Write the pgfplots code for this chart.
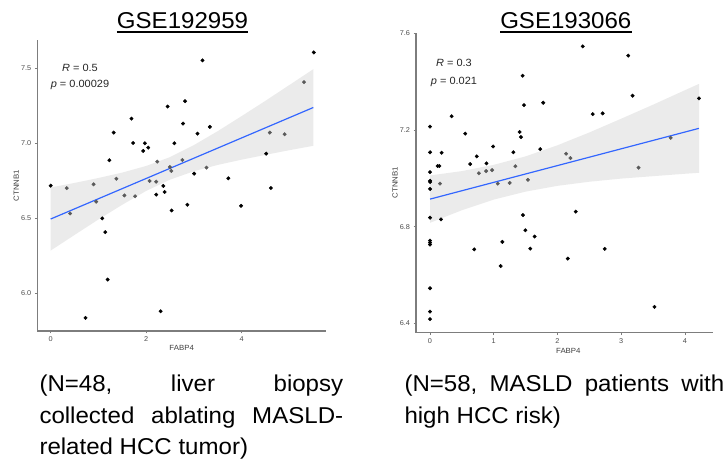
\documentclass[border=0pt]{standalone}
\usepackage{fontspec}
\setmainfont[FakeStretch=1.05]{Liberation Sans}
\usepackage{pgfplots}
\pgfplotsset{compat=1.18}
\definecolor{smblue}{RGB}{51,102,255}
\definecolor{rib}{RGB}{235,235,235}
\definecolor{axgray}{RGB}{125,125,125}
\definecolor{ptgray}{RGB}{90,90,90}
\newcommand{\tickfont}{\fontsize{7}{8}\selectfont}
\newcommand{\capsize}{\fontsize{23}{31}\selectfont}
\pgfplotsset{
  scat/.style={
    scale only axis,
    axis x line=bottom, axis y line=left,
    axis line style={-, draw=axgray, line width=1.1bp},
    tick align=outside, major tick length=2.5bp,
    tick style={draw=axgray, line width=0.7bp},
    ticklabel style={font=\tickfont, text=black!70},
    /pgf/number format/assume math mode=true,
    label style={font=\fontsize{7.5}{9}\selectfont, text=black!75},
  },
  blk/.style={only marks, mark=*, mark size=1.75bp, black, mark options={draw=black, fill=black}},
  gry/.style={only marks, mark=*, mark size=1.75bp, ptgray, mark options={draw=ptgray, fill=ptgray}},
}
\begin{document}
\begin{tikzpicture}
\path[use as bounding box] (0,0) rectangle (728bp,462bp);

% ---------------- Left panel ----------------
\begin{axis}[scat, at={(37.3bp,131bp)}, anchor=south west,
  width=288.7bp, height=291bp,
  xmin=-0.28, xmax=5.765, ymin=5.751, ymax=7.687,
  xtick={0,2,4}, xticklabels={0,2,4},
  ytick={6,6.5,7,7.5}, yticklabels={6.0,6.5,7.0,7.5},
  xlabel={FABP4}, ylabel={CTNNB1},
  xlabel style={at={([yshift=-16.7bp]axis description cs:0.5,0)}, anchor=center},
  ylabel style={at={([xshift=-21bp]axis description cs:0,0.5)}, anchor=center},
]
\addplot[fill=rib, draw=none] coordinates {
 (0,6.706) (0.5,6.736) (1,6.769) (1.5,6.805) (2,6.849) (2.5,6.908) (3,6.988) (3.5,7.081) (4,7.181) (4.5,7.283) (5,7.388) (5.5,7.493)
 (5.5,6.983) (5,6.954) (4.5,6.923) (4,6.891) (3.5,6.856) (3,6.814) (2.5,6.758) (2,6.683) (1.5,6.591) (1,6.493) (0.5,6.390) (0,6.286)
};
\addplot[gry] coordinates {
 (0.337,6.702) (0.407,6.533) (0.898,6.727) (0.954,6.611) (1.375,6.764) (1.544,6.653) (1.768,6.647) (2.07,6.749) (2.21,6.744) (2.232,6.878) (2.498,6.842) (2.526,6.816) (2.758,6.889) (3.263,6.838) (4.589,7.071) (4.898,7.06) (5.305,7.407)
};
\addplot[blk] coordinates {
 (0,6.718) (0.73,5.838) (1.081,6.5) (1.144,6.409) (1.193,6.093) (1.228,6.887) (1.319,7.071) (1.691,7.164) (1.726,7.002) (1.937,6.949) (1.972,7.0) (2.042,6.971) (2.21,6.658) (2.302,5.882) (2.358,6.716) (2.386,6.676) (2.449,7.244) (2.533,6.553) (2.589,7.0) (2.772,7.131) (2.814,7.28) (2.863,6.591) (3.004,6.798) (3.074,7.064) (3.179,7.551) (3.333,7.109) (3.719,6.767) (3.986,6.584) (4.512,6.931) (4.611,6.702) (5.509,7.604)
};
\addplot[draw=smblue, line width=1.2bp, no marks] coordinates {(0,6.496) (5.5,7.238)};
\node[anchor=base, font=\fontsize{10.5}{12}\selectfont, text=black!85] at (axis cs:0.614,7.476) {\textit{R} = 0.5};
\node[anchor=base, font=\fontsize{10.5}{12}\selectfont, text=black!85] at (axis cs:0.614,7.373) {\textit{p} = 0.00029};
\end{axis}

% ---------------- Right panel ----------------
\begin{axis}[scat, at={(416bp,129.3bp)}, anchor=south west,
  width=296.7bp, height=300bp,
  xmin=-0.22, xmax=4.435, ymin=6.361, ymax=7.603,
  xtick={0,1,2,3,4}, xticklabels={0,1,2,3,4},
  ytick={6.4,6.8,7.2,7.6}, yticklabels={6.4,6.8,7.2,7.6},
  xlabel={FABP4}, ylabel={CTNNB1},
  xlabel style={at={([yshift=-18bp,xshift=4bp]axis description cs:0.5,0)}, anchor=center},
  ylabel style={at={([xshift=-21bp]axis description cs:0,0.5)}, anchor=center},
]
\addplot[fill=rib, draw=none] coordinates {
 (0,7.012) (0.5,7.030) (1,7.056) (1.5,7.091) (2,7.137) (2.5,7.190) (3,7.247) (3.5,7.305) (4,7.365) (4.22,7.391)
 (4.22,7.023) (4,7.019) (3.5,7.009) (3,6.999) (2.5,6.986) (2,6.969) (1.5,6.945) (1,6.912) (0.5,6.868) (0,6.816)
};
\addplot[gry] coordinates {
 (0.156,6.978) (0.766,7.021) (0.880,7.030) (0.974,7.034) (1.063,6.978) (1.25,6.981) (1.339,7.05) (1.536,6.994) (2.135,7.102) (2.203,7.084) (3.271,7.044) (3.776,7.168)
};
\addplot[blk] coordinates {
 (0,7.214) (0,7.108) (0,7.026) (0,6.990) (0,6.985) (0,6.956) (0,6.837) (0,6.742) (0,6.734) (0,6.726) (0,6.545) (0,6.448) (0,6.417) (0.12,7.051) (0.146,7.051) (0.172,6.830) (0.182,7.106) (0.339,7.257) (0.552,7.185) (0.630,7.059) (0.693,6.706) (0.734,7.091) (0.885,7.062) (0.990,7.132) (1.109,6.637) (1.135,6.737) (1.307,7.108) (1.406,7.192) (1.427,7.171) (1.453,7.425) (1.458,6.848) (1.474,7.303) (1.495,6.785) (1.573,6.709) (1.641,6.759) (1.729,7.121) (1.776,7.313) (2.161,6.668) (2.286,6.862) (2.396,7.546) (2.552,7.266) (2.708,7.269) (2.740,6.708) (3.109,7.508) (3.177,7.342) (3.521,6.468) (4.219,7.331)
};
\addplot[draw=smblue, line width=1.2bp, no marks] coordinates {(0,6.914) (4.219,7.207)};
\node[anchor=base, font=\fontsize{10.5}{12}\selectfont, text=black!85] at (axis cs:0.376,7.465) {\textit{R} = 0.3};
\node[anchor=base, font=\fontsize{10.5}{12}\selectfont, text=black!85] at (axis cs:0.376,7.390) {\textit{p} = 0.021};
\end{axis}

% ---------------- Titles ----------------
\node[anchor=base, inner sep=0, font=\fontsize{23}{27}\selectfont] (t1) at (182.5bp,433.7bp) {GSE192959};
\draw[line width=1.7bp] ([yshift=-4bp]t1.base west) -- ([yshift=-4bp]t1.base east);
\node[anchor=base, inner sep=0, font=\fontsize{23}{27}\selectfont] (t2) at (565.8bp,433.7bp) {GSE193066};
\draw[line width=1.7bp] ([yshift=-4bp]t2.base west) -- ([yshift=-4bp]t2.base east);

% ---------------- Captions ----------------
\node[anchor=base west, inner sep=0, font=\capsize] at (39.3bp,70.3bp) {\hbox to 303.7bp{(N=48,\hfill liver\hfill biopsy}};
\node[anchor=base west, inner sep=0, font=\capsize] at (39.3bp,38.7bp) {\hbox to 303.7bp{collected\hfill ablating\hfill MASLD-}};
\node[anchor=base west, inner sep=0, font=\capsize] at (39.3bp,7.7bp) {related HCC tumor)};
\node[anchor=base west, inner sep=0, font=\capsize] at (404.3bp,70.3bp) {\hbox to 319.7bp{(N=58,\hfill MASLD\hfill patients\hfill with}};
\node[anchor=base west, inner sep=0, font=\capsize] at (404.3bp,38.3bp) {high HCC risk)};
\end{tikzpicture}
\end{document}
